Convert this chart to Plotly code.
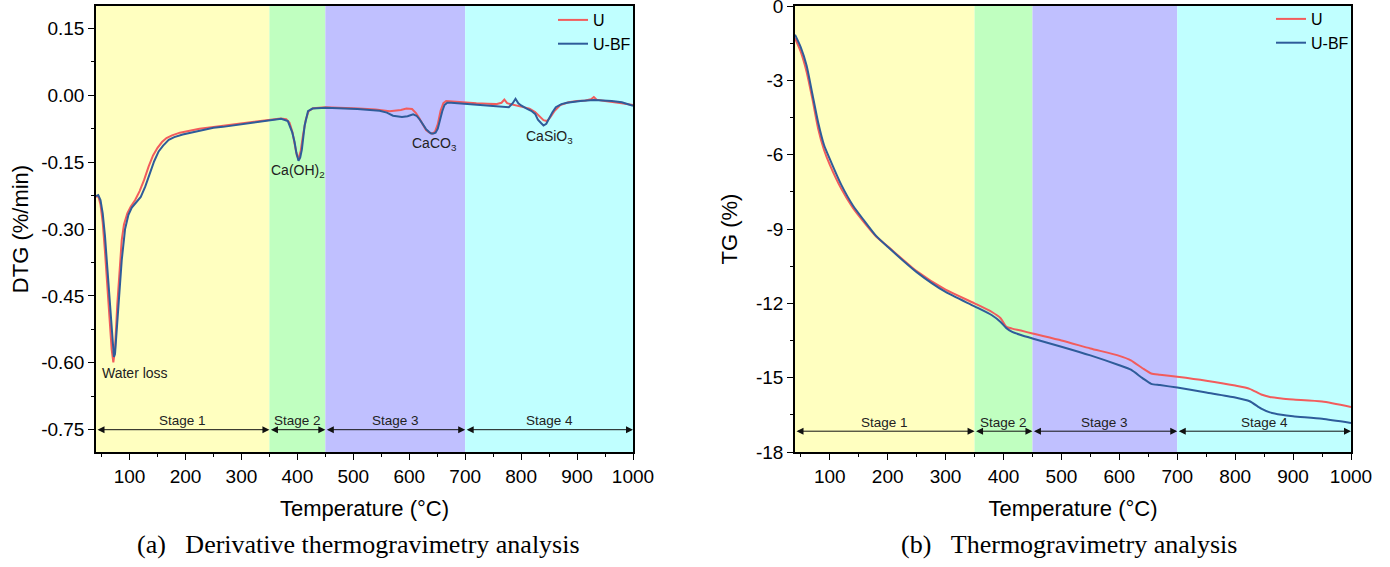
import plotly.graph_objects as go

# ---------------- data ----------------
series_names = ["U", "U-BF"]
stage_bounds = [40, 350, 450, 700, 1000]
stage_labels = ["Stage 1", "Stage 2", "Stage 3", "Stage 4"]
stage_colors = ["#FFFFC0", "#C0FFC0", "#C0C0FF", "#C0FFFF"]

# DTG (%/min)
temp_dtg_u = [40, 44, 48, 52, 56, 60, 64, 68, 71, 74, 78, 82, 86, 90, 96, 102, 110, 118, 126, 134,
              142, 150, 158, 166, 176, 190, 205, 225, 250, 275, 300, 325, 350, 370, 380, 386, 391,
              395, 399, 402, 406, 410, 415, 420, 428, 450, 480, 510, 540, 565, 585, 595, 605, 612,
              618, 624, 630, 636, 641, 646, 651, 656, 661, 666, 675, 690, 705, 720, 740, 755, 765,
              770, 775, 785, 800, 815, 825, 833, 840, 846, 852, 860, 870, 885, 900, 915, 925, 930,
              935, 950, 965, 980, 1000]
dtg_u = [-0.228, -0.226, -0.245, -0.285, -0.350, -0.430, -0.505, -0.570, -0.599, -0.570, -0.470,
         -0.385, -0.325, -0.290, -0.265, -0.250, -0.235, -0.215, -0.190, -0.160, -0.135, -0.118,
         -0.105, -0.096, -0.090, -0.084, -0.080, -0.075, -0.071, -0.067, -0.063, -0.060, -0.056,
         -0.052, -0.054, -0.062, -0.082, -0.110, -0.135, -0.142, -0.125, -0.090, -0.055, -0.036,
         -0.029, -0.027, -0.028, -0.030, -0.032, -0.036, -0.033, -0.030, -0.031, -0.040, -0.052,
         -0.066, -0.078, -0.084, -0.086, -0.082, -0.065, -0.035, -0.018, -0.013, -0.014, -0.016,
         -0.017, -0.018, -0.019, -0.020, -0.017, -0.010, -0.018, -0.021, -0.024, -0.030, -0.038,
         -0.048, -0.056, -0.058, -0.050, -0.035, -0.022, -0.016, -0.013, -0.012, -0.009, -0.004,
         -0.010, -0.013, -0.015, -0.018, -0.022]
temp_dtg_ubf = [40, 44, 48, 52, 56, 60, 64, 68, 72, 74, 78, 82, 86, 92, 98, 104, 112, 120, 128, 136,
                144, 152, 160, 170, 180, 195, 210, 228, 250, 267, 285, 307, 330, 350, 371, 383, 391,
                395, 398, 402, 405, 408, 413, 419, 427, 451, 480, 507, 530, 547, 560, 571, 587,
                597, 607, 613, 619, 625, 630, 635, 639, 643, 647, 651, 655, 659, 663, 668, 675,
                685, 698, 720, 746, 765, 778, 785, 790, 795, 800, 810, 818, 825, 830, 836, 840,
                845, 850, 856, 862, 872, 882, 906, 930, 945, 962, 980, 1000]
dtg_ubf = [-0.226, -0.224, -0.235, -0.265, -0.315, -0.385, -0.453, -0.525, -0.587, -0.580, -0.518,
           -0.440, -0.370, -0.300, -0.268, -0.252, -0.240, -0.228, -0.205, -0.178, -0.148, -0.126,
           -0.113, -0.100, -0.094, -0.088, -0.084, -0.078, -0.073, -0.071, -0.068, -0.064, -0.061,
           -0.058, -0.053, -0.058, -0.084, -0.105, -0.128, -0.147, -0.140, -0.122, -0.068, -0.036,
           -0.030, -0.028, -0.029, -0.031, -0.033, -0.035, -0.039, -0.046, -0.049, -0.047, -0.043,
           -0.046, -0.055, -0.066, -0.076, -0.082, -0.086, -0.086, -0.084, -0.075, -0.055, -0.036,
           -0.022, -0.017, -0.017, -0.018, -0.019, -0.021, -0.023, -0.025, -0.027, -0.018, -0.008,
           -0.018, -0.023, -0.030, -0.035, -0.042, -0.055, -0.063, -0.068, -0.064, -0.051, -0.038,
           -0.027, -0.020, -0.017, -0.013, -0.011, -0.012, -0.013, -0.016, -0.024]

# TG (%)
temp_tg = [40, 50, 60, 70, 80, 90, 100, 120, 140, 160, 180, 200, 250, 300, 350, 380, 395, 405, 415,
           430, 450, 500, 550, 600, 620, 640, 655, 670, 700, 750, 800, 825, 845, 860, 880, 900,
           950, 1000]
tg_u = [-1.30, -1.85, -2.65, -3.75, -4.95, -5.80, -6.40, -7.38, -8.15, -8.75, -9.30, -9.70,
        -10.70, -11.45, -12.00, -12.35, -12.60, -12.95, -13.02, -13.10, -13.22, -13.50, -13.82,
        -14.12, -14.30, -14.62, -14.83, -14.88, -14.96, -15.12, -15.32, -15.45, -15.68, -15.78,
        -15.84, -15.88, -15.96, -16.18]
tg_ubf = [-1.16, -1.67, -2.40, -3.55, -4.70, -5.60, -6.17, -7.22, -8.05, -8.68, -9.28, -9.72,
          -10.74, -11.54, -12.12, -12.48, -12.75, -13.00, -13.15, -13.28, -13.42, -13.75, -14.10,
          -14.50, -14.68, -15.02, -15.25, -15.30, -15.40, -15.60, -15.80, -15.95, -16.25, -16.40,
          -16.50, -16.56, -16.66, -16.83]

dtg_tickvals = [-0.75, -0.60, -0.45, -0.30, -0.15, 0.00, 0.15]
dtg_ticktext = ["-0.75", "-0.60", "-0.45", "-0.30", "-0.15", "0.00", "0.15"]
dtg_minor = [-0.675, -0.525, -0.375, -0.225, -0.075, 0.075]
tg_tickvals = [-18, -15, -12, -9, -6, -3, 0]
tg_ticktext = ["-18", "-15", "-12", "-9", "-6", "-3", "0"]
tg_minor = [-16.5, -13.5, -10.5, -7.5, -4.5, -1.5]

dtg_labels = ["Water loss", "Ca(OH)<sub>2</sub>", "CaCO<sub>3</sub>", "CaSiO<sub>3</sub>"]
dtg_label_x = [109, 401, 645, 851]
dtg_label_y = [-0.623, -0.171, -0.110, -0.093]

colors = ["#F25C5C", "#2E5C9A"]

# ---------------- figure ----------------
W, H = 1390, 567

fig = go.Figure()

fig.add_trace(go.Scatter(x=temp_dtg_u, y=dtg_u, mode="lines", name=series_names[0],
                         line=dict(color=colors[0], width=2), xaxis="x", yaxis="y",
                         legend="legend"))
fig.add_trace(go.Scatter(x=temp_dtg_ubf, y=dtg_ubf, mode="lines", name=series_names[1],
                         line=dict(color=colors[1], width=2), xaxis="x", yaxis="y",
                         legend="legend"))
fig.add_trace(go.Scatter(x=temp_tg, y=tg_u, mode="lines", name=series_names[0],
                         line=dict(color=colors[0], width=2, shape="spline", smoothing=0.6),
                         xaxis="x2", yaxis="y2", legend="legend2"))
fig.add_trace(go.Scatter(x=temp_tg, y=tg_ubf, mode="lines", name=series_names[1],
                         line=dict(color=colors[1], width=2, shape="spline", smoothing=0.6),
                         xaxis="x2", yaxis="y2", legend="legend2"))

shapes = []
annotations = []
for xr, yr, arrow_y, label_y in [("x", "y", -0.75, -0.729), ("x2", "y2", -17.16, -16.8)]:
    for i in range(4):
        x0, x1 = stage_bounds[i], stage_bounds[i + 1]
        shapes.append(dict(type="rect", xref=xr, yref=yr + " domain", x0=x0, x1=x1, y0=0, y1=1,
                           fillcolor=stage_colors[i], line=dict(width=0), layer="below"))
        annotations.append(dict(xref=xr, yref=yr, x=x1, y=arrow_y, ax=x0, ay=arrow_y,
                                axref=xr, ayref=yr, text="", showarrow=True,
                                arrowside="end+start", arrowhead=2, startarrowhead=2,
                                arrowsize=1.4, startarrowsize=1.4, arrowwidth=1,
                                arrowcolor="#111111", standoff=0, startstandoff=0))
        annotations.append(dict(xref=xr, yref=yr, x=(x0 + x1) / 2, y=label_y,
                                text=stage_labels[i], showarrow=False,
                                xanchor="center", yanchor="middle",
                                font=dict(size=13.5, color="#222222")))

for t, xv, yv in zip(dtg_labels, dtg_label_x, dtg_label_y):
    annotations.append(dict(xref="x", yref="y", x=xv, y=yv, text=t, showarrow=False,
                            xanchor="center", yanchor="middle",
                            font=dict(size=14, color="#222222")))

cap_font = dict(family="Liberation Serif, Times New Roman, serif", size=26, color="black")
annotations.append(dict(xref="paper", yref="paper", x=358 / W, y=1 - 544 / H,
                        xanchor="center", yanchor="middle",
                        text="(a)&nbsp;&nbsp;&nbsp;Derivative thermogravimetry analysis",
                        showarrow=False, font=cap_font))
annotations.append(dict(xref="paper", yref="paper", x=1069 / W, y=1 - 544 / H,
                        xanchor="center", yanchor="middle",
                        text="(b)&nbsp;&nbsp;&nbsp;Thermogravimetry analysis",
                        showarrow=False, font=cap_font))

axis_common = dict(showline=True, linecolor="black", linewidth=1.5, mirror=True,
                   showgrid=False, zeroline=False, ticks="outside", ticklen=6,
                   tickwidth=1.3, tickcolor="black", ticklabeloverflow="allow",
                   automargin=False,
                   tickfont=dict(size=19, color="black"))
minor_common = dict(ticks="outside", ticklen=3, tickwidth=1.2, tickcolor="black")
xdef = dict(range=[40, 1000], tickmode="linear", tick0=0, dtick=100,
            minor=dict(tickmode="linear", tick0=0, dtick=50, **minor_common),
            title=dict(text="Temperature (°C)", font=dict(size=22, color="black"),
                       standoff=15),
            **axis_common)

y_top = 1 - 6 / H
y_bot = 1 - 452 / H
fig.update_layout(
    width=W, height=H, margin=dict(l=0, r=0, t=0, b=0, autoexpand=False),
    paper_bgcolor="white", plot_bgcolor="white",
    font=dict(family="Liberation Sans, Arial, sans-serif", color="black"),
    xaxis=dict(domain=[96 / W, 633 / W], anchor="y", **xdef),
    xaxis2=dict(domain=[795 / W, 1351 / W], anchor="y2", **xdef),
    yaxis=dict(domain=[y_bot, y_top], anchor="x", range=[-0.8, 0.2], tickmode="array",
               tickvals=dtg_tickvals, ticktext=dtg_ticktext,
               minor=dict(tickmode="array", tickvals=dtg_minor, **minor_common),
               title=dict(text="DTG (%/min)", font=dict(size=22, color="black"),
                          standoff=6),
               **axis_common),
    yaxis2=dict(domain=[y_bot, y_top], anchor="x2", range=[-18, 0], tickmode="array",
                tickvals=tg_tickvals, ticktext=tg_ticktext,
                minor=dict(tickmode="array", tickvals=tg_minor, **minor_common),
                title=dict(text="TG (%)", font=dict(size=22, color="black"),
                           standoff=12),
                **axis_common),
    legend=dict(x=636 / W, xanchor="right", y=1 - 3 / H, yanchor="top",
                bgcolor="rgba(0,0,0,0)", font=dict(size=16, color="black"),
                tracegroupgap=0),
    legend2=dict(x=1354 / W, xanchor="right", y=1 - 2 / H, yanchor="top",
                 bgcolor="rgba(0,0,0,0)", font=dict(size=16, color="black"),
                 tracegroupgap=0),
    shapes=shapes, annotations=annotations,
)

fig.write_html("out.html")
